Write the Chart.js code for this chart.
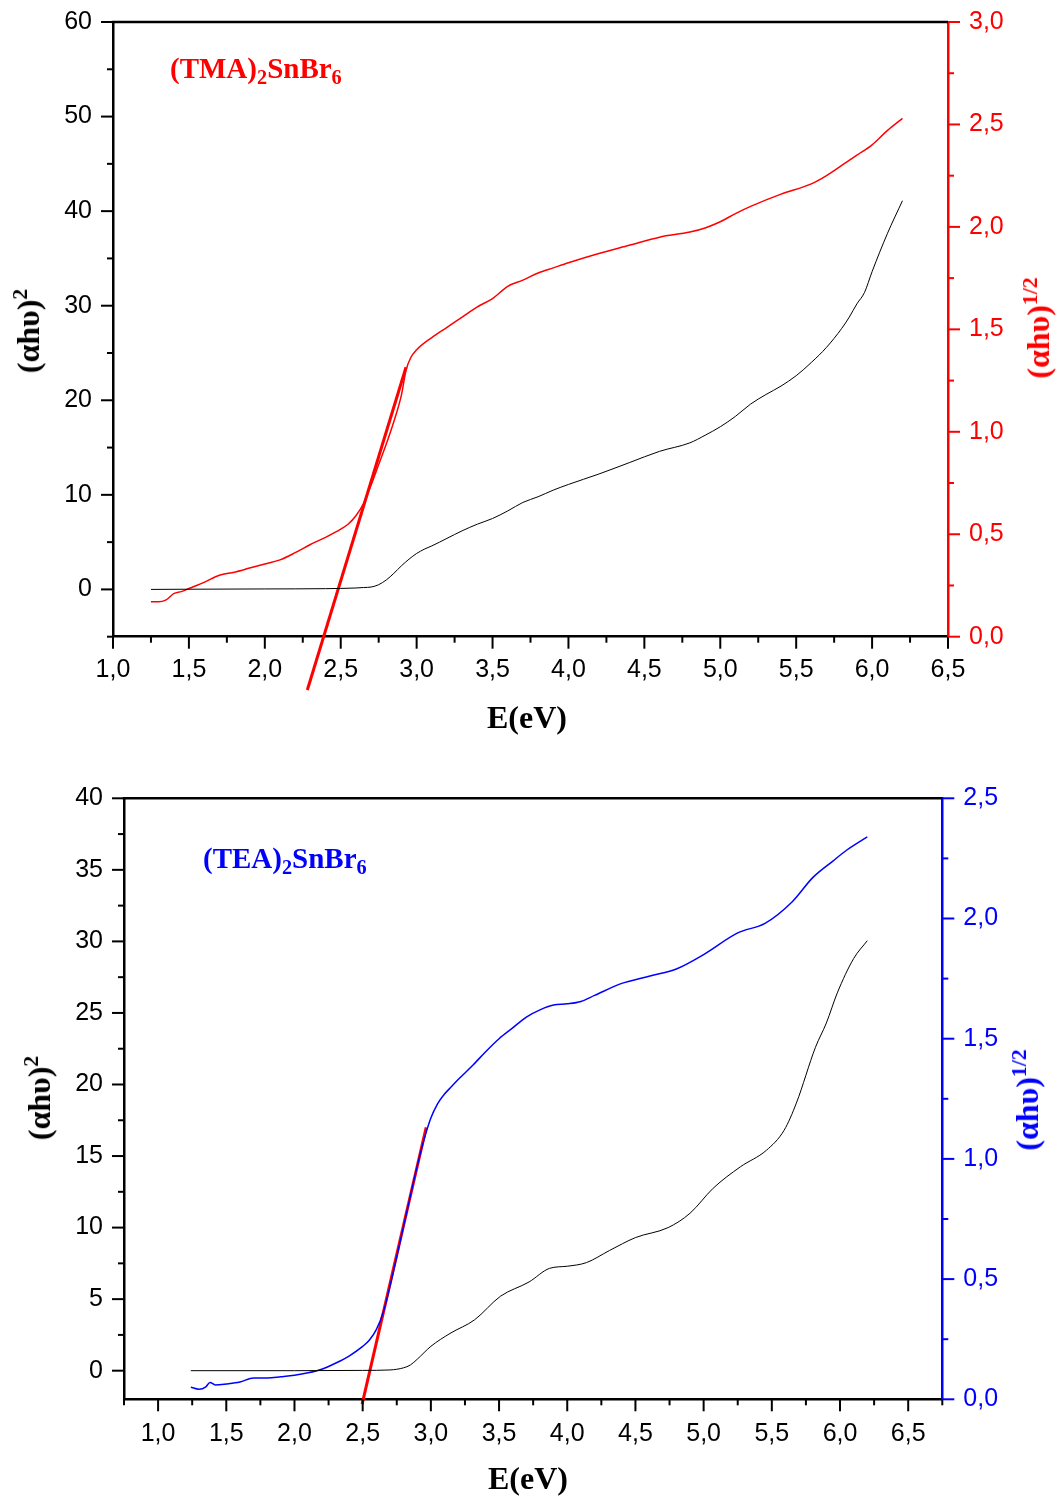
<!DOCTYPE html>
<html>
<head>
<meta charset="utf-8">
<script src="https://cdn.jsdelivr.net/npm/chart.js@4.4.1/dist/chart.umd.min.js"></script>
<style>
  html, body { margin:0; padding:0; background:#fff; }
  #wrap { position:relative; width:1058px; height:1497px; overflow:hidden; background:#fff; }
  canvas { position:absolute; left:0; }
  .lbl { position:absolute; font-family:"Liberation Serif","Times New Roman",serif; font-weight:bold; white-space:nowrap; line-height:1; }
  .sub { font-size:0.7em; position:relative; top:0.28em; }
  .sup { font-size:0.68em; position:relative; top:-0.55em; }
  .rot { transform: translate(-50%,-50%) rotate(-90deg); }
  .ctr { transform: translate(-50%,0); }
</style>
</head>
<body>
<div id="wrap">
  <canvas id="c1" width="1058" height="770" style="top:-20px;width:1058px;height:770px"></canvas>
  <canvas id="c2" width="1058" height="747" style="top:750px;width:1058px;height:747px"></canvas>

  <div class="lbl" style="left:170px;top:54px;font-size:29px;color:#ff0000;line-height:29px">(TMA)<span class="sub">2</span>SnBr<span class="sub">6</span></div>
  <div class="lbl" style="left:203px;top:844px;font-size:29px;color:#0000ff;line-height:29px">(TEA)<span class="sub">2</span>SnBr<span class="sub">6</span></div>

  <div class="lbl ctr" style="left:527px;top:701px;font-size:32px;color:#000">E(eV)</div>
  <div class="lbl ctr" style="left:528px;top:1462px;font-size:32px;color:#000">E(eV)</div>

  <div class="lbl rot" style="left:28px;top:331px;font-size:32px;color:#000">(αhυ)<span class="sup">2</span></div>
  <div class="lbl rot" style="left:1038px;top:328px;font-size:32px;color:#ff0000">(αhυ)<span class="sup">1/2</span></div>
  <div class="lbl rot" style="left:39px;top:1098px;font-size:32px;color:#000">(αhυ)<span class="sup">2</span></div>
  <div class="lbl rot" style="left:1027px;top:1100px;font-size:32px;color:#0000ff">(αhυ)<span class="sup">1/2</span></div>
</div>

<script>
// ---------------- DATA: (TMA)2SnBr6 ----------------
const tmaSqE = [1.25,1.5,2.0,2.4,2.6,2.65,2.7,2.75,2.8,2.85,2.9,2.95,3.0,3.05,3.1,3.2,3.3,3.4,3.5,3.6,3.7,3.8,3.9,4.0,4.2,4.4,4.6,4.8,4.9,5.0,5.1,5.2,5.3,5.4,5.5,5.6,5.7,5.8,5.85,5.9,5.95,6.0,6.1,6.2];
const tmaSqV = [0,0.02,0.05,0.08,0.15,0.2,0.25,0.5,1.0,1.7,2.5,3.2,3.8,4.25,4.6,5.4,6.2,6.9,7.5,8.3,9.2,9.8,10.5,11.1,12.2,13.4,14.6,15.5,16.3,17.2,18.3,19.6,20.6,21.5,22.6,24.0,25.6,27.6,28.8,30.2,31.4,33.6,37.6,41.1];

const tmaRtE = [1.25,1.3,1.35,1.4,1.45,1.5,1.6,1.7,1.8,1.9,2.0,2.1,2.2,2.3,2.4,2.5,2.55,2.6,2.65,2.7,2.75,2.8,2.85,2.9,2.93,2.96,3.0,3.1,3.2,3.3,3.4,3.5,3.6,3.7,3.8,3.9,4.0,4.2,4.4,4.6,4.8,4.9,5.0,5.1,5.2,5.4,5.6,5.7,5.8,5.9,6.0,6.1,6.2];
const tmaRtV = [0.17,0.17,0.18,0.21,0.22,0.235,0.265,0.30,0.315,0.335,0.355,0.375,0.41,0.45,0.485,0.525,0.55,0.59,0.65,0.74,0.84,0.94,1.05,1.18,1.30,1.36,1.40,1.46,1.51,1.56,1.61,1.65,1.71,1.74,1.775,1.80,1.825,1.87,1.91,1.95,1.975,1.995,2.025,2.065,2.10,2.16,2.21,2.25,2.30,2.35,2.40,2.47,2.53];

const tmaFitE = [2.28, 2.93];
const tmaFitV = [-0.26, 1.315];

// ---------------- DATA: (TEA)2SnBr6 ----------------
const teaSqE = [1.24,2.0,2.5,2.7,2.75,2.8,2.85,2.9,3.0,3.14,3.32,3.51,3.72,3.87,4.0,4.14,4.31,4.5,4.74,4.9,5.07,5.27,5.46,5.59,5.68,5.82,5.9,5.98,6.1,6.2];
const teaSqV = [0,0,0.02,0.05,0.1,0.2,0.4,0.8,1.7,2.6,3.55,5.2,6.2,7.15,7.3,7.55,8.4,9.3,10.0,11.0,12.75,14.25,15.4,16.8,18.7,22.6,24.3,26.4,28.8,30.05];

const teaRtE = [1.24,1.3,1.35,1.38,1.42,1.5,1.6,1.7,1.8,1.9,2.0,2.1,2.2,2.3,2.4,2.5,2.55,2.6,2.65,2.7,2.8,2.9,2.95,3.0,3.05,3.1,3.15,3.2,3.3,3.4,3.5,3.6,3.7,3.8,3.9,4.0,4.1,4.2,4.4,4.6,4.8,5.0,5.25,5.45,5.65,5.8,5.95,6.05,6.2];
const teaRtV = [0.05,0.042,0.052,0.07,0.06,0.064,0.072,0.089,0.089,0.094,0.10,0.11,0.125,0.15,0.18,0.22,0.247,0.29,0.36,0.47,0.72,0.97,1.08,1.17,1.23,1.27,1.30,1.33,1.385,1.445,1.50,1.545,1.59,1.62,1.64,1.645,1.655,1.68,1.73,1.76,1.79,1.85,1.94,1.98,2.07,2.17,2.24,2.285,2.34];

const teaFitE = [2.496, 2.966];
const teaFitV = [-0.02, 1.131];

// ---------------- TICKS ----------------
const xTicks = [1.0,1.5,2.0,2.5,3.0,3.5,4.0,4.5,5.0,5.5,6.0,6.5];
const xMinor1 = [1.25,1.75,2.25,2.75,3.25,3.75,4.25,4.75,5.25,5.75,6.25];
const xMinor2 = [0.75,1.25,1.75,2.25,2.75,3.25,3.75,4.25,4.75,5.25,5.75,6.25,6.75];
const y1Ticks = [0,10,20,30,40,50,60];
const y1Minor = [-5,5,15,25,35,45,55];
const r1Ticks = [0.0,0.5,1.0,1.5,2.0,2.5,3.0];
const r1Minor = [0.25,0.75,1.25,1.75,2.25,2.75];
const y2Ticks = [0,5,10,15,20,25,30,35,40];
const y2Minor = [2.5,7.5,12.5,17.5,22.5,27.5,32.5,37.5];
const r2Ticks = [0.0,0.5,1.0,1.5,2.0,2.5];
const r2Minor = [0.25,0.75,1.25,1.75,2.25];

const pts = (xs, ys) => xs.map((x, i) => ({x, y: ys[i]}));
const comma = v => Number(v).toFixed(1).replace('.', ',');

const tickPlugin = {
  id: 'originTicks',
  afterDraw(chart, args, opts) {
    const ctx = chart.ctx;
    const ca = chart.chartArea;
    ctx.save();
    ctx.strokeStyle = '#000';
    ctx.lineWidth = 2.5;
    ctx.beginPath();
    ctx.moveTo(ca.left - 1.25, ca.top);
    ctx.lineTo(ca.right, ca.top);
    ctx.stroke();
    for (const id of Object.keys(opts.axes || {})) {
      const s = chart.scales[id];
      const d = opts.axes[id];
      ctx.strokeStyle = d.color;
      ctx.lineWidth = 2;
      const draw = (vals, len) => {
        for (const v of vals) {
          const p = s.getPixelForValue(v);
          ctx.beginPath();
          if (id === 'x') { ctx.moveTo(p, ca.bottom); ctx.lineTo(p, ca.bottom + len); }
          else if (d.side === 'left') { ctx.moveTo(ca.left, p); ctx.lineTo(ca.left - len, p); }
          else { ctx.moveTo(ca.right, p); ctx.lineTo(ca.right + len, p); }
          ctx.stroke();
        }
      };
      draw(d.major, 12);
      draw(d.minor, 6);
    }
    ctx.restore();
  }
};

function makeChart(id, cfg) {
  const font = {family: '"Liberation Sans", Arial, sans-serif', size: 25};
  const grid = {display: false, drawTicks: false};
  return new Chart(document.getElementById(id), {
    type: 'line',
    data: {datasets: cfg.datasets},
    options: {
      responsive: false,
      animation: false,
      devicePixelRatio: 1,
      layout: {padding: {top: cfg.padTop, left: 0, right: 0, bottom: 0}},
      plugins: {legend: {display: false}, tooltip: {enabled: false},
        originTicks: {axes: cfg.tickAxes}},
      elements: {point: {radius: 0}, line: {cubicInterpolationMode: 'monotone'}},
      scales: {
        x: {type: 'linear', position: 'bottom', min: cfg.xMin, max: cfg.xMax,
          grid, border: {display: true, color: '#000', width: 2.5},
          ticks: {font, color: '#000', padding: cfg.xPad, maxRotation: 0, autoSkip: false, callback: v => comma(v)},
          afterBuildTicks: s => { s.ticks = xTicks.map(v => ({value: v})); },
          afterFit: s => { s.height = cfg.xH; }},
        y: {type: 'linear', position: 'left', min: cfg.yMin, max: cfg.yMax,
          grid, border: {display: true, color: '#000', width: 2.5},
          ticks: {font, color: '#000', padding: 21, autoSkip: false, callback: v => String(v)},
          afterBuildTicks: s => { s.ticks = cfg.yTicks.map(v => ({value: v})); },
          afterFit: s => { s.width = cfg.yW; }},
        y2: {type: 'linear', position: 'right', min: cfg.rMin, max: cfg.rMax,
          grid, border: {display: true, color: cfg.rColor, width: 2.5},
          ticks: {font, color: cfg.rColor, padding: 21, autoSkip: false, callback: v => comma(v)},
          afterBuildTicks: s => { s.ticks = cfg.rTicks.map(v => ({value: v})); },
          afterFit: s => { s.width = cfg.rW; }}
      }
    },
    plugins: [tickPlugin]
  });
}

makeChart('c1', {
  padTop: 42, xH: 113.3, yW: 113, rW: 110, xPad: 18,
  xMin: 1.0, xMax: 6.5, yMin: -5, yMax: 60, rMin: 0, rMax: 3,
  yTicks: y1Ticks, rTicks: r1Ticks, rColor: '#ff0000',
  tickAxes: {
    x: {color: '#000', side: 'bottom', major: xTicks, minor: xMinor1},
    y: {color: '#000', side: 'left', major: y1Ticks, minor: y1Minor},
    y2: {color: '#ff0000', side: 'right', major: r1Ticks, minor: r1Minor}
  },
  datasets: [
    {data: pts(tmaSqE, tmaSqV), yAxisID: 'y', borderColor: '#000', borderWidth: 1},
    {data: pts(tmaRtE, tmaRtV), yAxisID: 'y2', borderColor: '#ff0000', borderWidth: 1.5},
    {data: pts(tmaFitE, tmaFitV), yAxisID: 'y2', borderColor: '#ff0000', borderWidth: 3, clip: false, cubicInterpolationMode: 'default'}
  ]
});

makeChart('c2', {
  padTop: 48.3, xH: 97.7, yW: 124, rW: 115.7, xPad: 20,
  xMin: 0.75, xMax: 6.75, yMin: -2, yMax: 40, rMin: 0, rMax: 2.5,
  yTicks: y2Ticks, rTicks: r2Ticks, rColor: '#0000ff',
  tickAxes: {
    x: {color: '#000', side: 'bottom', major: xTicks, minor: xMinor2},
    y: {color: '#000', side: 'left', major: y2Ticks, minor: y2Minor},
    y2: {color: '#0000ff', side: 'right', major: r2Ticks, minor: r2Minor}
  },
  datasets: [
    {data: pts(teaSqE, teaSqV), yAxisID: 'y', borderColor: '#000', borderWidth: 1},
    {data: pts(teaRtE, teaRtV), yAxisID: 'y2', borderColor: '#0000ff', borderWidth: 1.5},
    {data: pts(teaFitE, teaFitV), yAxisID: 'y2', borderColor: '#ff0000', borderWidth: 3, clip: false, cubicInterpolationMode: 'default'}
  ]
});
</script>
</body>
</html>
